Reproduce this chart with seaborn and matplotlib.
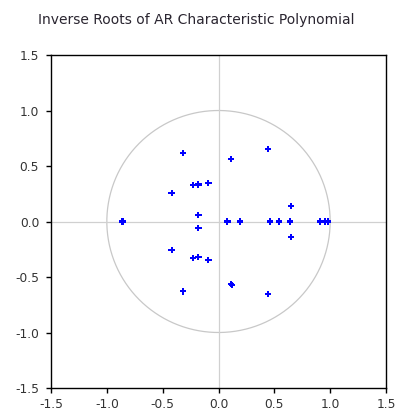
import matplotlib
matplotlib.use("Agg")
import matplotlib.pyplot as plt
import seaborn as sns
import numpy as np
import pandas as pd

title = "Inverse Roots of AR Characteristic Polynomial"
real_part = [-0.32, 0.11, 0.44, -0.23, -0.18, -0.18, -0.09, -0.42, 0.65, -0.18,
             -0.86, 0.08, 0.19, 0.46, 0.54, 0.64, 0.91, 0.95, 0.98,
             -0.18, 0.65, -0.42, -0.23, -0.18, -0.09, 0.11, 0.12, -0.32, 0.44]
imag_part = [0.62, 0.56, 0.65, 0.33, 0.33, 0.34, 0.35, 0.26, 0.14, 0.06,
             0.0, 0.0, 0.0, 0.0, 0.0, 0.0, 0.0, 0.0, 0.0,
             -0.06, -0.14, -0.26, -0.33, -0.32, -0.35, -0.56, -0.57, -0.63, -0.65]
ticks = [-1.5, -1.0, -0.5, 0.0, 0.5, 1.0, 1.5]
tick_labels = ["-1.5", "-1.0", "-0.5", "0.0", "0.5", "1.0", "1.5"]

sns.set_style("white")
plt.rcParams["font.family"] = ["DejaVu Sans"]
plt.rcParams["axes.unicode_minus"] = False

df = pd.DataFrame({"re": real_part, "im": imag_part})

fig = plt.figure(figsize=(3.95, 4.2), dpi=100)
ax = fig.add_axes([51/395, 1-388/420, (386-51)/395, (388-55)/420])

# unit circle
theta = np.linspace(0, 2*np.pi, 400)
ax.plot(np.cos(theta), np.sin(theta), color="#c8c8c8", lw=0.9, zorder=1)
ax.axhline(0, color="#d0d0d0", lw=0.9, zorder=1)
ax.axvline(0, color="#d0d0d0", lw=0.9, zorder=1)

sns.scatterplot(data=df, x="re", y="im", ax=ax, marker="P", s=20,
                color="#0000ff", edgecolor="none", linewidth=0, zorder=3)

ax.set_xlim(-1.5, 1.5)
ax.set_ylim(-1.5, 1.5)
ax.set_xticks(ticks)
ax.set_xticklabels(tick_labels)
ax.set_yticks(ticks)
ax.set_yticklabels(tick_labels)
ax.set_xlabel("")
ax.set_ylabel("")
for s in ax.spines.values():
    s.set_color("black")
    s.set_linewidth(1.0)
ax.tick_params(axis="both", direction="out", length=3.5, width=1.0,
               color="black", labelsize=8.8, labelcolor="#333333",
               bottom=True, left=True, top=False, right=False)
ax.tick_params(axis="x", pad=4)
ax.tick_params(axis="y", pad=5)

fig.text(38/395, 1-24/420, title, ha="left", va="baseline",
         fontsize=10, color="#2a2530")

fig.savefig("out.png", dpi=100)
